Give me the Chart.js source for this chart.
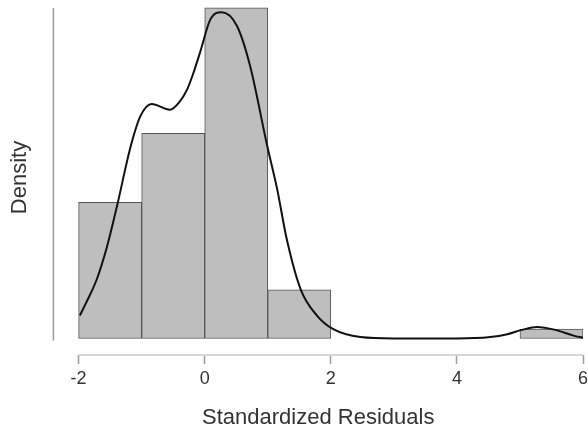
<!DOCTYPE html>
<html>
<head>
<meta charset="utf-8">
<script src="https://cdn.jsdelivr.net/npm/chart.js@4.4.1/dist/chart.umd.min.js"></script>
<style>
  html, body { margin: 0; padding: 0; background: #fff; }
  #wrap { width: 588px; height: 427px; }
</style>
</head>
<body>
<div id="wrap"><canvas id="hist"></canvas></div>
<script>
// histogram bins (edges) and densities
const binEdges = [-2, -1, 0, 1, 2, 3, 4, 5, 6]
const binDensity = [0.19, 0.286, 0.461, 0.068, 0, 0, 0, 0.013]

// kernel density curve
const curveX = [-1.98, -1.88, -1.71, -1.55, -1.39, -1.18, -1.02, -0.84, -0.55, -0.4, -0.28, -0.18, -0.07, 0.09, 0.27, 0.51, 0.72, 0.99, 1.15, 1.3, 1.52, 1.78, 2.04, 2.47, 3.0, 3.5, 4.0, 4.53, 4.8, 5.03, 5.27, 5.56, 5.85, 6.0]
const curveY = [0.032, 0.05, 0.083, 0.128, 0.185, 0.266, 0.31, 0.327, 0.319, 0.33, 0.347, 0.37, 0.4, 0.445, 0.455, 0.436, 0.38, 0.269, 0.208, 0.139, 0.069, 0.032, 0.013, 0.002, 0, 0, 0, 0.002, 0.006, 0.012, 0.016, 0.012, 0.004, 0.001]

// x axis ticks
const xTicks = [-2, 0, 2, 4, 6]

const fontFam = "'Liberation Sans', Arial, sans-serif"

// build bar points from bins
let barPoints = []
for (let i = 0; i < binDensity.length; i++) {
  barPoints.push({x: (binEdges[i] + binEdges[i + 1]) / 2, y: binDensity[i]})
}
let curvePoints = curveX.map((v, i) => ({x: v, y: curveY[i]}))

// draws the R style axis lines (x from first to last tick, y from 0 to top bar)
const axisLines = {
  id: 'axisLines',
  beforeDatasetsDraw(chart) {
    const {ctx, chartArea, scales} = chart
    const x = scales.x, y = scales.y
    ctx.save()
    ctx.strokeStyle = '#d6d6d6'
    ctx.lineWidth = 2
    ctx.beginPath()
    ctx.moveTo(x.getPixelForValue(xTicks[0]), chartArea.bottom)
    ctx.lineTo(x.getPixelForValue(xTicks[xTicks.length - 1]), chartArea.bottom)
    ctx.stroke()
    ctx.strokeStyle = '#9a9a9a'
    ctx.lineWidth = 1.5
    ctx.beginPath()
    ctx.moveTo(chartArea.left, y.getPixelForValue(0) + 2)
    ctx.lineTo(chartArea.left, y.getPixelForValue(Math.max(...binDensity)))
    ctx.stroke()
    ctx.restore()
  }
}

const ctx = document.getElementById('hist').getContext('2d')
const myChart = new Chart(ctx, {
  type: 'bar',
  data: {
    datasets: [
      {
        type: 'line',
        data: curvePoints,
        borderColor: '#111',
        borderWidth: 2,
        pointRadius: 0,
        fill: false,
        cubicInterpolationMode: 'monotone',
        order: 0
      },
      {
        type: 'bar',
        data: barPoints,
        backgroundColor: '#bebebe',
        borderColor: '#555',
        borderWidth: 1,
        borderSkipped: false,
        barPercentage: 1,
        categoryPercentage: 1,
        order: 1
      }
    ]
  },
  plugins: [axisLines],
  options: {
    responsive: true,
    maintainAspectRatio: false,
    animation: false,
    layout: { padding: 0 },
    plugins: { legend: { display: false }, tooltip: { enabled: false } },
    scales: {
      x: {
        type: 'linear',
        offset: false,
        min: -2.4,
        max: 6,
        afterBuildTicks: (scale) => { scale.ticks = xTicks.map(v => ({value: v})) },
        afterFit: (scale) => { scale.paddingRight = 5 },
        border: { display: false },
        grid: { offset: false, drawOnChartArea: false, tickLength: 9, tickColor: '#9a9a9a', tickWidth: 1.5 },
        ticks: { color: '#333', padding: 4, maxRotation: 0, font: { family: fontFam, size: 18 } },
        title: {
          display: true,
          text: 'Standardized Residuals',
          color: '#333',
          padding: { top: 11, bottom: -4 },
          font: { family: fontFam, size: 22 }
        }
      },
      y: {
        min: -0.023,
        max: 0.472,
        border: { display: false },
        grid: { display: false },
        ticks: { display: false },
        title: {
          display: true,
          text: 'Density',
          color: '#333',
          padding: { top: 7, bottom: 12 },
          font: { family: fontFam, size: 22 }
        }
      }
    }
  }
})
</script>
</body>
</html>
